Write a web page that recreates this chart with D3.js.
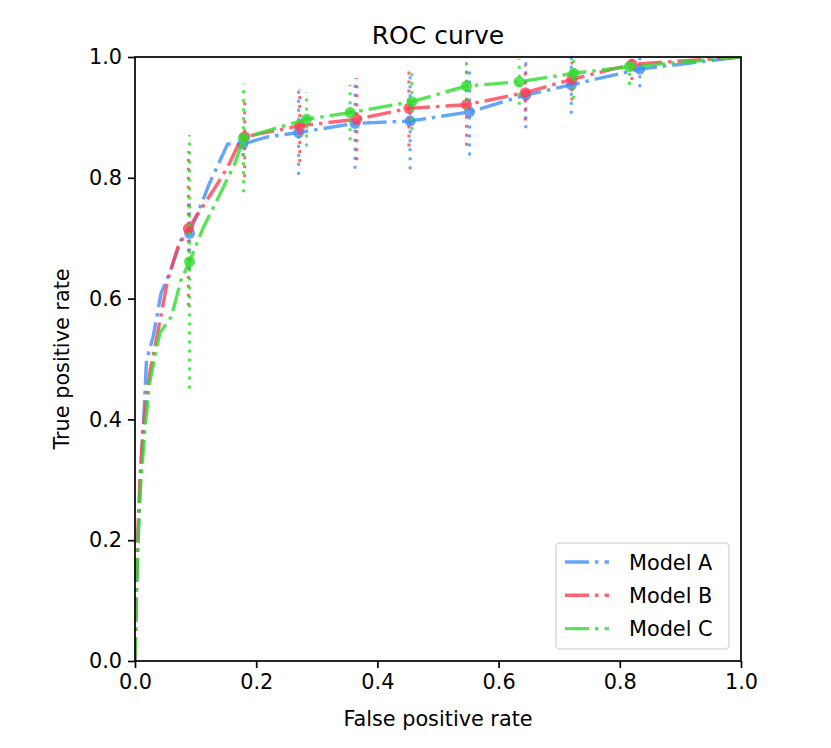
<!doctype html><html><head><style>body{margin:0;background:#fff}</style></head><body><script src='https://d3js.org/d3.v7.min.js'></script>

<script>
// Dimensions
const xSize = 831;  const ySize = 748;
const axLeft = 135, axRight = 741, axTop = 57, axBottom = 661;

// Model names and colours
const models = ["Model A", "Model B", "Model C"];
const colors = ["#3f8ff9", "#ff3d55", "#2fdc2f"];

// mean ROC curves
const fprA = [0,0.002,0.005,0.008,0.011,0.013,0.019,0.03,0.043,0.057,0.076,0.09,0.123,0.153,0.178,0.22,0.27,0.363,0.454,0.552,0.645,0.72,0.833,1];
const tprA = [0,0.1,0.2,0.28,0.34,0.371,0.498,0.537,0.609,0.642,0.697,0.708,0.791,0.856,0.856,0.868,0.875,0.89,0.894,0.909,0.937,0.954,0.98,1];
const fprB = [0,0.002,0.005,0.008,0.013,0.024,0.035,0.054,0.071,0.088,0.131,0.153,0.17,0.181,0.272,0.366,0.452,0.547,0.644,0.721,0.82,1];
const tprB = [0,0.12,0.22,0.3,0.382,0.476,0.531,0.631,0.686,0.716,0.782,0.818,0.854,0.868,0.886,0.897,0.915,0.921,0.941,0.963,0.988,1];
const fprC = [0,0.002,0.005,0.009,0.016,0.024,0.041,0.06,0.076,0.09,0.112,0.137,0.165,0.179,0.283,0.355,0.457,0.547,0.634,0.724,0.816,1];
const tprC = [0,0.1,0.2,0.29,0.377,0.46,0.543,0.57,0.631,0.661,0.716,0.766,0.824,0.866,0.897,0.908,0.926,0.952,0.959,0.973,0.984,1];

// error bar points (x, mean, half-width)
const errXA = [0.09,0.178,0.27,0.363,0.454,0.552,0.645,0.72,0.833];
const errYA = [0.708,0.856,0.875,0.89,0.894,0.909,0.937,0.954,0.98];
const errEA = [0.06,0.02,0.07,0.075,0.08,0.072,0.055,0.048,0.03];
const errXB = [0.088,0.181,0.272,0.366,0.452,0.547,0.644,0.721,0.82];
const errYB = [0.716,0.868,0.886,0.897,0.915,0.921,0.941,0.963,0.988];
const errEB = [0.128,0.067,0.06,0.068,0.063,0.068,0.046,0.035,0.026];
const errXC = [0.09,0.179,0.283,0.355,0.457,0.547,0.634,0.724,0.816];
const errYC = [0.661,0.866,0.897,0.908,0.926,0.952,0.959,0.973,0.984];
const errEC = [0.21,0.09,0.045,0.046,0.047,0.04,0.038,0.042,0.03];

const xTicks = [0,0.2,0.4,0.6,0.8,1.0];
const yTicks = [0,0.2,0.4,0.6,0.8,1.0];

const curves = [
  {fpr: fprA, tpr: tprA, ex: errXA, ey: errYA, ee: errEA},
  {fpr: fprB, tpr: tprB, ex: errXB, ey: errYB, ee: errEB},
  {fpr: fprC, tpr: tprC, ex: errXC, ey: errYC, ee: errEC}
];

const font = "DejaVu Sans";

const svg = d3.select("body")
              .append("svg")
              .attr('width', xSize)
              .attr('height', ySize)
              .style('font-family', font);

const x = d3.scaleLinear().domain([0, 1]).range([axLeft, axRight]);
const y = d3.scaleLinear().domain([0, 1]).range([axBottom, axTop]);

svg.append("clipPath").attr("id", "clip")
   .append("rect")
   .attr("x", axLeft).attr("y", axTop)
   .attr("width", axRight - axLeft).attr("height", axBottom - axTop);

const plot = svg.append("g").attr("clip-path", "url(#clip)");

// error bars, lines, markers
curves.forEach((c, i) => {
  const pts = c.ex.map((v, k) => ({x: v, y: c.ey[k], e: c.ee[k]}));
  plot.selectAll(".err" + i)
      .data(pts)
      .enter().append("line")
      .attr("x1", d => x(d.x)).attr("x2", d => x(d.x))
      .attr("y1", d => y(d.y - d.e)).attr("y2", d => y(d.y + d.e))
      .attr("stroke", colors[i])
      .attr("stroke-opacity", 0.8)
      .attr("stroke-width", 3)
      .attr("stroke-dasharray", "3 6");

  plot.append("path")
      .datum(c.fpr.map((v, k) => [v, c.tpr[k]]))
      .attr("fill", "none")
      .attr("stroke", colors[i])
      .attr("stroke-opacity", 0.8)
      .attr("stroke-width", 3.4)
      .attr("stroke-dasharray", "24 6 3.5 6")
      .attr("d", d3.line().x(d => x(d[0])).y(d => y(d[1])));

  plot.selectAll(".mk" + i)
      .data(pts)
      .enter().append("circle")
      .attr("cx", d => x(d.x)).attr("cy", d => y(d.y))
      .attr("r", 5.5)
      .attr("fill", colors[i])
      .attr("fill-opacity", 0.8);
});

// axes
const xAxis = svg.append("g")
   .attr("transform", "translate(0," + axBottom + ")")
   .call(d3.axisBottom(x).tickValues(xTicks).tickFormat(d3.format(".1f")).tickSize(7).tickPadding(6).tickSizeOuter(0));
const yAxis = svg.append("g")
   .attr("transform", "translate(" + axLeft + ",0)")
   .call(d3.axisLeft(y).tickValues(yTicks).tickFormat(d3.format(".1f")).tickSize(7).tickPadding(6).tickSizeOuter(0));
[xAxis, yAxis].forEach(a => {
  a.select(".domain").remove();
  a.selectAll("line").attr("stroke", "#000").attr("stroke-width", 1.7);
  a.selectAll("text").attr("font-family", font).attr("font-size", 20.8).attr("fill", "#000");
});

// frame
svg.append("rect")
   .attr("x", axLeft).attr("y", axTop)
   .attr("width", axRight - axLeft).attr("height", axBottom - axTop)
   .attr("fill", "none").attr("stroke", "#000").attr("stroke-width", 1.7);

// labels
svg.append("text").attr("x", (axLeft + axRight) / 2).attr("y", 44)
   .attr("text-anchor", "middle").attr("font-size", 25).text("ROC curve");
svg.append("text").attr("x", (axLeft + axRight) / 2).attr("y", 726)
   .attr("text-anchor", "middle").attr("font-size", 20.8).text("False positive rate");
svg.append("text")
   .attr("transform", "translate(69," + (axTop + axBottom) / 2 + ") rotate(-90)")
   .attr("text-anchor", "middle").attr("font-size", 20.8).text("True positive rate");

// legend
const leg = svg.append("g");
leg.append("rect")
   .attr("x", 556).attr("y", 543).attr("width", 173).attr("height", 106)
   .attr("rx", 4).attr("fill", "#fff").attr("fill-opacity", 0.8)
   .attr("stroke", "#d9d9d9").attr("stroke-width", 1.5);
models.forEach((m, i) => {
  const ly = 562 + i * 33.3;
  leg.append("line")
     .attr("x1", 565).attr("x2", 609).attr("y1", ly).attr("y2", ly)
     .attr("stroke", colors[i]).attr("stroke-opacity", 0.8)
     .attr("stroke-width", 3.4).attr("stroke-dasharray", "24 6 3.5 6");
  leg.append("text").attr("x", 629).attr("y", ly + 7.5)
     .attr("font-size", 20.8).text(m);
});
</script></body></html>
